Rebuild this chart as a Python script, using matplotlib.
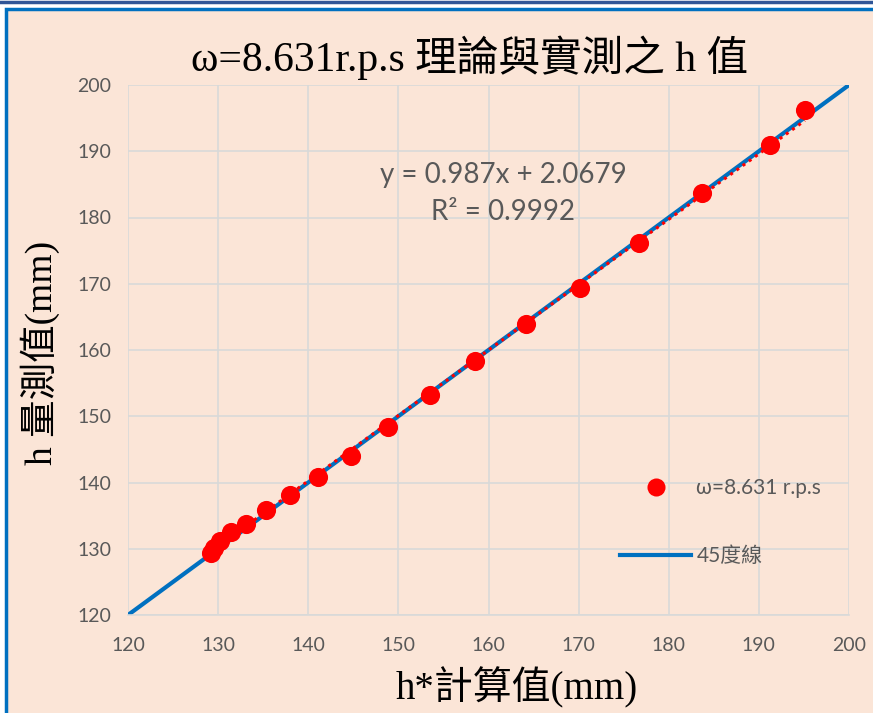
import matplotlib
matplotlib.use("Agg")
import matplotlib.pyplot as plt
from matplotlib.patches import Rectangle
from matplotlib.lines import Line2D

# Computed (h*) vs measured (h) water heights, mm
h_calc = [195.1, 191.2, 183.7, 176.7, 170.2, 164.2, 158.5, 153.5, 148.8,
          144.7, 141.1, 138.0, 135.3, 133.1, 131.4, 130.2, 129.5, 129.2]
h_meas = [196.2, 190.9, 183.7, 176.2, 169.4, 163.9, 158.3, 153.2, 148.4,
          144.0, 140.8, 138.1, 135.8, 133.7, 132.5, 131.2, 130.1, 129.4]

# Linear trendline reported on the chart
slope = 0.987
intercept = 2.0679
r_squared = 0.9992

x_ticks = [120, 130, 140, 150, 160, 170, 180, 190, 200]
y_ticks = [120, 130, 140, 150, 160, 170, 180, 190, 200]

BG = "#FBE5D7"
GRID = "#D9D9D9"
TXT = "#595959"
BLUE = "#0070C0"
RED = "#FF0000"
TITLE_FONT = ["Liberation Serif", "Noto Sans CJK TC"]
TICK_FONT = ["Lato", "Noto Sans CJK TC"]

fig = plt.figure(figsize=(8.73, 7.13), dpi=100)
fig.patch.set_facecolor("white")

# outer frame
fig.add_artist(Line2D([0, 1], [1 - 2 / 713, 1 - 2 / 713], color="#2F5597",
                      lw=2.5, transform=fig.transFigure))
fig.add_artist(Rectangle((6 / 873, -0.01), 1.0, 1 - 9 / 713 + 0.01,
                         transform=fig.transFigure, facecolor=BG,
                         edgecolor=BLUE, lw=2.5, zorder=0))

ax = fig.add_axes([128 / 873, 1 - 615 / 713, (849 - 128) / 873, (615 - 85) / 713])
ax.set_facecolor(BG)
ax.set_xlim(120, 200)
ax.set_ylim(120, 200)
ax.set_xticks(x_ticks)
ax.set_yticks(y_ticks)
ax.grid(True, color=GRID, lw=1.2)
ax.set_axisbelow(True)
for side in ["top", "right", "left"]:
    ax.spines[side].set_visible(False)
ax.spines["bottom"].set_color(GRID)
ax.spines["bottom"].set_linewidth(1.2)
ax.tick_params(length=0, colors=TXT, labelsize=14)
ax.tick_params(axis="x", pad=16)
ax.tick_params(axis="y", pad=12)
for lab in ax.get_xticklabels() + ax.get_yticklabels():
    lab.set_family(TICK_FONT)

# 45 degree reference line
ax.plot([120, 200], [120, 200], color=BLUE, lw=3, solid_capstyle="butt",
        zorder=2)

# trendline (dotted)
x0, x1 = min(h_calc), max(h_calc)
ax.plot([x0, x1], [slope * x0 + intercept, slope * x1 + intercept],
        color=RED, lw=2.2, ls=(0, (1, 1.5)), zorder=3)

# measured points
ax.scatter(h_calc, h_meas, s=190, color=RED, zorder=4, linewidths=0)

fig.text(503 / 873, 1 - 175 / 713, f"y = {slope}x + {intercept}",
         ha="center", va="center", fontsize=20, color=TXT, family=TICK_FONT)
fig.text(503 / 873, 1 - 212 / 713, f"R² = {r_squared}",
         ha="center", va="center", fontsize=20, color=TXT, family=TICK_FONT)

fig.text(470 / 873, 1 - 58 / 713, "ω=8.631r.p.s 理論與實測之 h 值",
         ha="center", va="center", fontsize=30, family=TITLE_FONT,
         color="black")
fig.text(517 / 873, 1 - 688 / 713, "h*計算值(mm)", ha="center", va="center",
         fontsize=28, family=TITLE_FONT, color="black")
fig.text(40 / 873, 1 - 353 / 713, "h 量測值(mm)", ha="center", va="center",
         rotation=90, rotation_mode="anchor", fontsize=27,
         family=TITLE_FONT, color="black")

handles = [
    Line2D([], [], ls="none", marker="o", color=RED, markersize=13,
           markeredgewidth=0),
    Line2D([], [], color=BLUE, lw=3),
]
leg = ax.legend(handles, ["ω=8.631 r.p.s", "45度線"], loc="upper left",
                bbox_to_anchor=((612 - 128) / (849 - 128), (615 - 470) / 530),
                frameon=False, handlelength=3.4, handletextpad=0.25,
                labelspacing=2.3, borderaxespad=0,
                prop={"family": TICK_FONT, "size": 15})
for t in leg.get_texts():
    t.set_color(TXT)

fig.savefig("out.png", dpi=100, facecolor=fig.get_facecolor())
